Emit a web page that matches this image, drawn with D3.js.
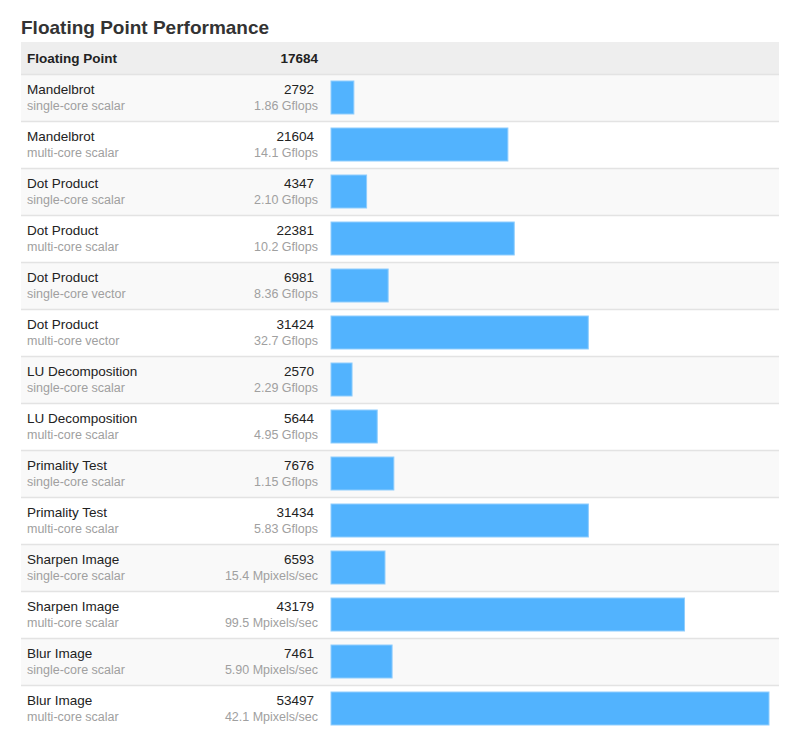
<!DOCTYPE html>
<html>
<head>
<meta charset="UTF-8">
<title>Floating Point Performance</title>
<script src="https://d3js.org/d3.v7.min.js"></script>
<style>
  body { margin: 0; background: #fff; font-family: "Helvetica Neue", Helvetica, Arial, "Liberation Sans", sans-serif; }
  svg { display: block; }
</style>
</head>
<body>
<svg id="chart" width="800" height="743"></svg>
<script>
// 数据
const names = ['Mandelbrot', 'Mandelbrot', 'Dot Product', 'Dot Product', 'Dot Product', 'Dot Product',
  'LU Decomposition', 'LU Decomposition', 'Primality Test', 'Primality Test',
  'Sharpen Image', 'Sharpen Image', 'Blur Image', 'Blur Image'];
const modes = ['single-core scalar', 'multi-core scalar', 'single-core scalar', 'multi-core scalar',
  'single-core vector', 'multi-core vector', 'single-core scalar', 'multi-core scalar',
  'single-core scalar', 'multi-core scalar', 'single-core scalar', 'multi-core scalar',
  'single-core scalar', 'multi-core scalar'];
const scores = [2792, 21604, 4347, 22381, 6981, 31424, 2570, 5644, 7676, 31434, 6593, 43179, 7461, 53497];
const rates = ['1.86 Gflops', '14.1 Gflops', '2.10 Gflops', '10.2 Gflops', '8.36 Gflops', '32.7 Gflops',
  '2.29 Gflops', '4.95 Gflops', '1.15 Gflops', '5.83 Gflops', '15.4 Mpixels/sec', '99.5 Mpixels/sec',
  '5.90 Mpixels/sec', '42.1 Mpixels/sec'];
const headerLabel = 'Floating Point';
const headerScore = 17684;

const rows = names.map((n, i) => ({ name: n, mode: modes[i], score: scores[i], rate: rates[i] }));

const left = 21, right = 779;
const headerTop = 42, headerH = 32, rowH = 47;

const svg = d3.select('#chart');

svg.append('text')
  .attr('x', 21).attr('y', 34)
  .attr('font-size', 19).attr('font-weight', 'bold').attr('fill', '#333')
  .text('Floating Point Performance');

// 表头
svg.append('rect')
  .attr('x', left).attr('y', headerTop).attr('width', right - left).attr('height', headerH)
  .attr('fill', '#eeeeee');
svg.append('text')
  .attr('x', 27).attr('y', headerTop + 21)
  .attr('font-size', 13.5).attr('font-weight', 'bold').attr('fill', '#222')
  .text(headerLabel);
svg.append('text')
  .attr('x', 318).attr('y', headerTop + 21).attr('text-anchor', 'end')
  .attr('font-size', 13.5).attr('font-weight', 'bold').attr('fill', '#222')
  .text(headerScore);

const y = d3.scaleBand()
  .domain(d3.range(rows.length))
  .range([headerTop + headerH, headerTop + headerH + rowH * rows.length]);

const x = d3.scaleLinear()
  .domain([0, d3.max(scores)])
  .range([0, 438]);

const g = svg.append('g').selectAll('g')
  .data(rows)
  .enter().append('g')
  .attr('transform', (d, i) => `translate(0,${y(i)})`);

g.append('rect')
  .attr('x', left).attr('y', 0).attr('width', right - left).attr('height', rowH)
  .attr('fill', (d, i) => i % 2 === 0 ? '#f9f9f9' : '#ffffff');

g.append('line')
  .attr('x1', left).attr('x2', right).attr('y1', 0.5).attr('y2', 0.5)
  .attr('stroke', '#e3e3e3').attr('stroke-width', 1.5);

g.append('text')
  .attr('x', 27).attr('y', 20)
  .attr('font-size', 13.5).attr('fill', '#222')
  .text(d => d.name);

g.append('text')
  .attr('x', 27).attr('y', 35.5)
  .attr('font-size', 12.5).attr('fill', '#a0a0a0')
  .text(d => d.mode);

g.append('text')
  .attr('x', 314).attr('y', 20).attr('text-anchor', 'end')
  .attr('font-size', 13.5).attr('fill', '#222')
  .text(d => d.score);

g.append('text')
  .attr('x', 318).attr('y', 35.5).attr('text-anchor', 'end')
  .attr('font-size', 12.5).attr('fill', '#a0a0a0')
  .text(d => d.rate);

g.append('rect')
  .attr('x', 331).attr('y', 7)
  .attr('width', d => x(d.score)).attr('height', 33)
  .attr('fill', '#52b3fe')
  .attr('stroke', '#8fcdfd').attr('stroke-width', 1);
</script>
</body>
</html>
